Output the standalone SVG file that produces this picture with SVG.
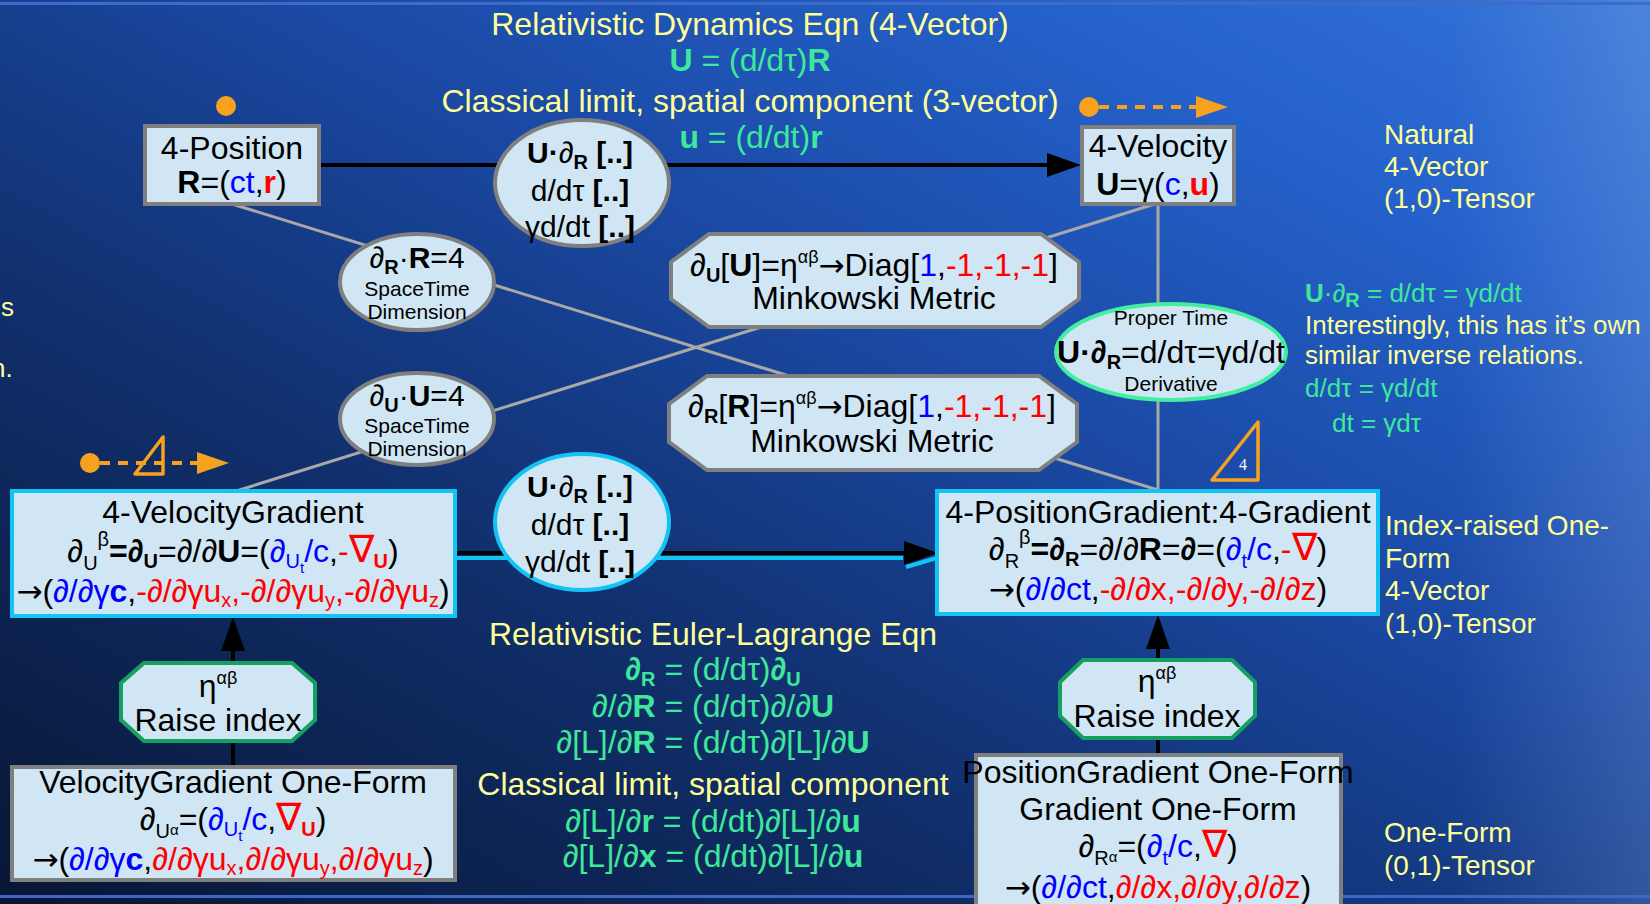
<svg xmlns="http://www.w3.org/2000/svg" width="1650" height="904" viewBox="0 0 1650 904">
<defs>
<linearGradient id="bg" x1="0" y1="1" x2="1" y2="0">
<stop offset="0" stop-color="#081634"/>
<stop offset="0.35" stop-color="#11306e"/>
<stop offset="0.6" stop-color="#1b4aa6"/>
<stop offset="0.82" stop-color="#2562cc"/>
<stop offset="1" stop-color="#3474d8"/>
</linearGradient>
<linearGradient id="edge" x1="0" y1="0" x2="1" y2="0">
<stop offset="0.88" stop-color="#ffffff" stop-opacity="0"/>
<stop offset="1" stop-color="#ffffff" stop-opacity="0.12"/>
</linearGradient>
<marker id="ah" markerUnits="userSpaceOnUse" markerWidth="34" markerHeight="24" refX="24" refY="12" orient="auto">
<path d="M0,0 L34,12 L0,24 z" fill="#000"/>
</marker>
<marker id="oa" markerUnits="userSpaceOnUse" markerWidth="32" markerHeight="22" refX="2" refY="11" orient="auto">
<path d="M0,0 L32,11 L0,22 z" fill="#f6a21e"/>
</marker>
<style>
text{font-family:"Liberation Sans",Arial,Helvetica,sans-serif;fill:#000}
.m{text-anchor:middle}
.s32{font-size:32px}
.s30{font-size:30px}
.s28{font-size:28px}
.s26{font-size:26px}
.s21{font-size:21px}
.sb{font-size:20px}
.sp{font-size:18px}
.ss{font-size:15px}
.nb{font-size:38px}
.ar2{font-family:"DejaVu Sans",sans-serif;font-size:31px}
.b{font-weight:bold}
.bl{fill:#0000ff}
.rd{fill:#ff0000}
.yl{fill:#ffff99}
.gn{fill:#3ee89a}
.nd{fill:#d0e6f4;stroke-width:4}
.gy{stroke:#7f7f7f}
.cy{stroke:#12c4f4}
.mt{stroke:#40f0a0}
.dg{stroke:#14a060}
.ln{stroke:#a8a8a8;stroke-width:3;fill:none}
.ar{stroke:#000;stroke-width:4;fill:none}
.cl{stroke:#12c4f4;stroke-width:4;fill:none}
.or{fill:#f6a21e}
.od{stroke:#f6a21e;stroke-width:4;stroke-dasharray:10 8;fill:none}
.ot{fill:none;stroke:#f6a21e;stroke-width:3.5;stroke-linejoin:round}
</style>
</defs>

<rect width="1650" height="904" fill="url(#bg)"/>
<rect width="1650" height="904" fill="url(#edge)"/>
<rect x="0" y="2" width="1650" height="3" fill="#3d6cc8"/>
<rect x="0" y="895" width="1650" height="3" fill="#3a68c4"/>

<g id="connectors">
<line class="ln" x1="232" y1="204" x2="1158" y2="490"/>
<line class="ln" x1="1158" y1="203" x2="233" y2="492"/>
<line class="ln" x1="1158" y1="203" x2="1158" y2="490"/>
<line class="ar" x1="319" y1="165" x2="1071" y2="165" marker-end="url(#ah)"/>
<line class="ar" x1="455" y1="553" x2="928" y2="553" marker-end="url(#ah)"/>
<line class="cl" x1="455" y1="558" x2="903" y2="558"/>
<line class="cl" x1="906" y1="567" x2="940" y2="557"/>
<line class="ar" x1="233" y1="767" x2="233" y2="627" marker-end="url(#ah)"/>
<line class="ar" x1="1158" y1="755" x2="1158" y2="625" marker-end="url(#ah)"/>
</g>

<g id="title">
<text class="m yl s32" x="750" y="35">Relativistic Dynamics Eqn (4-Vector)</text>
<text class="m gn s32" x="750" y="71"><tspan class="b">U</tspan> = (d/dτ)<tspan class="b">R</tspan></text>
<text class="m yl s32" x="750" y="112">Classical limit, spatial component (3-vector)</text>
<text class="m gn s32" x="751" y="148"><tspan class="b">u</tspan> = (d/dt)<tspan class="b">r</tspan></text>
</g>

<g id="euler-lagrange">
<text class="m yl s32" x="713" y="645">Relativistic Euler-Lagrange Eqn</text>
<text class="m gn s32" x="713" y="680"><tspan class="b">∂</tspan><tspan class="sb b" dy="6">R</tspan><tspan dy="-6"> = (d/dτ)</tspan><tspan class="b">∂</tspan><tspan class="sb b" dy="6">U</tspan></text>
<text class="m gn s32" x="713" y="717">∂/∂<tspan class="b">R</tspan> = (d/dτ)∂/∂<tspan class="b">U</tspan></text>
<text class="m gn s32" x="713" y="753">∂[L]/∂<tspan class="b">R</tspan> = (d/dτ)∂[L]/∂<tspan class="b">U</tspan></text>
<text class="m yl s32" x="713" y="795">Classical limit, spatial component</text>
<text class="m gn s32" x="713" y="832">∂[L]/∂<tspan class="b">r</tspan> = (d/dt)∂[L]/∂<tspan class="b">u</tspan></text>
<text class="m gn s32" x="713" y="867">∂[L]/∂<tspan class="b">x</tspan> = (d/dt)∂[L]/∂<tspan class="b">u</tspan></text>
</g>

<g id="side-labels">
<text class="yl s28" x="1384" y="144">Natural</text>
<text class="yl s28" x="1384" y="176">4-Vector</text>
<text class="yl s28" x="1384" y="208">(1,0)-Tensor</text>
<text class="yl s28" x="1385" y="535">Index-raised One-</text>
<text class="yl s28" x="1385" y="568">Form</text>
<text class="yl s28" x="1385" y="600">4-Vector</text>
<text class="yl s28" x="1385" y="633">(1,0)-Tensor</text>
<text class="yl s28" x="1384" y="842">One-Form</text>
<text class="yl s28" x="1384" y="875">(0,1)-Tensor</text>
<text class="gn s26" x="1305" y="302"><tspan class="b">U</tspan>·∂<tspan class="sb b" dy="5">R</tspan><tspan dy="-5"> = d/dτ = γd/dt</tspan></text>
<text class="yl s26" x="1305" y="334">Interestingly, this has it’s own</text>
<text class="yl s26" x="1305" y="364">similar inverse relations.</text>
<text class="gn s26" x="1305" y="397">d/dτ = γd/dt</text>
<text class="gn s26" x="1332" y="432">dt = γdτ</text>
<text class="yl s26" x="1" y="316">s</text>
<text class="yl s26" x="-9" y="377">n.</text>
</g>

<g id="four-position">
<rect class="nd gy" x="145" y="126" width="174" height="78"/>
<text class="m s32" x="232" y="159">4-Position</text>
<text class="m s32" x="232" y="193"><tspan class="b">R</tspan>=(<tspan class="bl">ct</tspan>,<tspan class="b rd">r</tspan>)</text>
</g>

<g id="four-velocity">
<rect class="nd gy" x="1082" y="127" width="152" height="77"/>
<text class="m s32" x="1158" y="157">4-Velocity</text>
<text class="m s32" x="1158" y="195"><tspan class="b">U</tspan>=γ(<tspan class="bl">c</tspan>,<tspan class="b rd">u</tspan>)</text>
</g>

<g id="derivative-top">
<ellipse class="nd gy" cx="582" cy="183" rx="87" ry="63"/>
<text class="m s30" x="580" y="163"><tspan class="b">U·</tspan>∂<tspan class="sb b" dy="6">R</tspan><tspan class="b" dy="-6"> [..]</tspan></text>
<text class="m s30" x="580" y="201">d/dτ<tspan class="b"> [..]</tspan></text>
<text class="m s30" x="580" y="237">γd/dt<tspan class="b"> [..]</tspan></text>
</g>

<g id="divergence-R">
<ellipse class="nd gy" cx="417" cy="282" rx="77" ry="48"/>
<text class="m s30" x="417" y="268">∂<tspan class="sb b" dy="6">R</tspan><tspan dy="-6">·</tspan><tspan class="b">R</tspan>=4</text>
<text class="m s21" x="417" y="296">SpaceTime</text>
<text class="m s21" x="417" y="319">Dimension</text>
</g>

<g id="divergence-U">
<ellipse class="nd gy" cx="417" cy="419" rx="77" ry="46"/>
<text class="m s30" x="417" y="406">∂<tspan class="sb b" dy="6">U</tspan><tspan dy="-6">·</tspan><tspan class="b">U</tspan>=4</text>
<text class="m s21" x="417" y="433">SpaceTime</text>
<text class="m s21" x="417" y="456">Dimension</text>
</g>

<g id="minkowski-U">
<polygon class="nd gy" points="709,234 1041,234 1079,262 1079,299 1041,327 709,327 671,299 671,262"/>
<text class="m s32" x="874" y="276">∂<tspan class="sb b" dy="6">U</tspan><tspan dy="-6">[</tspan><tspan class="b">U</tspan>]=η<tspan class="sp" dy="-13">αβ</tspan><tspan class="ar2" dy="13">→</tspan>Diag[<tspan class="bl">1</tspan>,<tspan class="rd">-1,-1,-1</tspan>]</text>
<text class="m s32" x="874" y="309">Minkowski Metric</text>
</g>

<g id="minkowski-R">
<polygon class="nd gy" points="707,376 1039,376 1077,404 1077,442 1039,470 707,470 669,442 669,404"/>
<text class="m s32" x="872" y="417">∂<tspan class="sb b" dy="6">R</tspan><tspan dy="-6">[</tspan><tspan class="b">R</tspan>]=η<tspan class="sp" dy="-13">αβ</tspan><tspan class="ar2" dy="13">→</tspan>Diag[<tspan class="bl">1</tspan>,<tspan class="rd">-1,-1,-1</tspan>]</text>
<text class="m s32" x="872" y="452">Minkowski Metric</text>
</g>

<g id="proper-time">
<ellipse class="nd mt" cx="1171" cy="352" rx="115" ry="48"/>
<text class="m s21" x="1171" y="325">Proper Time</text>
<text class="m s32" x="1171" y="363"><tspan class="b">U·∂</tspan><tspan class="sb b" dy="6">R</tspan><tspan dy="-6">=d/dτ=γd/dt</tspan></text>
<text class="m s21" x="1171" y="391">Derivative</text>
</g>

<g id="derivative-bottom">
<ellipse class="nd cy" cx="582" cy="522" rx="87" ry="68"/>
<text class="m s30" x="580" y="497"><tspan class="b">U·</tspan>∂<tspan class="sb b" dy="6">R</tspan><tspan class="b" dy="-6"> [..]</tspan></text>
<text class="m s30" x="580" y="535">d/dτ<tspan class="b"> [..]</tspan></text>
<text class="m s30" x="580" y="572">γd/dt<tspan class="b"> [..]</tspan></text>
</g>

<g id="four-velocity-gradient">
<rect class="nd cy" x="12" y="491" width="443" height="125"/>
<text class="m s32" x="233" y="523">4-VelocityGradient</text>
<text class="m s32" x="233" y="562">∂<tspan class="sb" dy="8">U</tspan><tspan class="sb" dy="-24">β</tspan><tspan class="b" dy="16">=∂</tspan><tspan class="sb b" dy="6">U</tspan><tspan dy="-6">=∂/∂</tspan><tspan class="b">U</tspan>=(<tspan class="bl">∂</tspan><tspan class="sb bl" dy="6">U</tspan><tspan class="ss bl" dy="5">t</tspan><tspan class="bl" dy="-11">/c</tspan>,<tspan class="rd">-</tspan><tspan class="rd nb">∇</tspan><tspan class="sb b rd" dy="6">U</tspan><tspan dy="-6">)</tspan></text>
<text class="m s32" x="233" y="602"><tspan class="ar2">→</tspan>(<tspan class="bl">∂/∂γ</tspan><tspan class="bl b">c</tspan>,<tspan class="rd">-∂/∂γu</tspan><tspan class="rd sb" dy="5">x</tspan><tspan class="rd" dy="-5">,-∂/∂γu</tspan><tspan class="rd sb" dy="5">y</tspan><tspan class="rd" dy="-5">,-∂/∂γu</tspan><tspan class="rd sb" dy="5">z</tspan><tspan dy="-5">)</tspan></text>
</g>

<g id="four-position-gradient">
<rect class="nd cy" x="937" y="491" width="441" height="123"/>
<text class="m s32" x="1158" y="523">4-PositionGradient:4-Gradient</text>
<text class="m s32" x="1158" y="560">∂<tspan class="sb" dy="8">R</tspan><tspan class="sb" dy="-24">β</tspan><tspan class="b" dy="16">=∂</tspan><tspan class="sb b" dy="6">R</tspan><tspan dy="-6">=∂/∂</tspan><tspan class="b">R</tspan>=<tspan class="b">∂</tspan>=(<tspan class="bl">∂</tspan><tspan class="sb bl" dy="8">t</tspan><tspan class="bl" dy="-8">/c</tspan>,<tspan class="rd">-</tspan><tspan class="rd nb">∇</tspan>)</text>
<text class="m s32" x="1158" y="600"><tspan class="ar2">→</tspan>(<tspan class="bl">∂/∂ct</tspan>,<tspan class="rd">-∂/∂x,-∂/∂y,-∂/∂z</tspan>)</text>
</g>

<g id="raise-index-left">
<polygon class="nd dg" points="144,663 292,663 315,683 315,720 292,741 144,741 121,720 121,683"/>
<text class="m s32" x="218" y="697">η<tspan class="sp" dy="-13">αβ</tspan></text>
<text class="m s32" x="218" y="731">Raise index</text>
</g>

<g id="raise-index-right">
<polygon class="nd dg" points="1083,660 1232,660 1255,682 1255,716 1232,738 1083,738 1060,716 1060,682"/>
<text class="m s32" x="1157" y="692">η<tspan class="sp" dy="-13">αβ</tspan></text>
<text class="m s32" x="1157" y="727">Raise index</text>
</g>

<g id="velocity-gradient-one-form">
<rect class="nd gy" x="12" y="767" width="443" height="113"/>
<text class="m s32" x="233" y="793">VelocityGradient One-Form</text>
<text class="m s32" x="233" y="830">∂<tspan class="sb" dy="8">U</tspan><tspan class="ss" dy="-3">α</tspan><tspan dy="-5">=(</tspan><tspan class="bl">∂</tspan><tspan class="sb bl" dy="6">U</tspan><tspan class="ss bl" dy="5">t</tspan><tspan class="bl" dy="-11">/c</tspan>,<tspan class="rd nb">∇</tspan><tspan class="sb b rd" dy="6">U</tspan><tspan dy="-6">)</tspan></text>
<text class="m s32" x="233" y="870"><tspan class="ar2">→</tspan>(<tspan class="bl">∂/∂γ</tspan><tspan class="bl b">c</tspan>,<tspan class="rd">∂/∂γu</tspan><tspan class="rd sb" dy="5">x</tspan><tspan class="rd" dy="-5">,∂/∂γu</tspan><tspan class="rd sb" dy="5">y</tspan><tspan class="rd" dy="-5">,∂/∂γu</tspan><tspan class="rd sb" dy="5">z</tspan><tspan dy="-5">)</tspan></text>
</g>

<g id="position-gradient-one-form">
<rect class="nd gy" x="976" y="755" width="365" height="160"/>
<text class="m s32" x="1158" y="783">PositionGradient One-Form</text>
<text class="m s32" x="1158" y="820">Gradient One-Form</text>
<text class="m s32" x="1158" y="857">∂<tspan class="sb" dy="8">R</tspan><tspan class="ss" dy="-3">α</tspan><tspan dy="-5">=(</tspan><tspan class="bl">∂</tspan><tspan class="sb bl" dy="8">t</tspan><tspan class="bl" dy="-8">/c</tspan>,<tspan class="rd nb">∇</tspan>)</text>
<text class="m s32" x="1158" y="898"><tspan class="ar2">→</tspan>(<tspan class="bl">∂/∂ct</tspan>,<tspan class="rd">∂/∂x,∂/∂y,∂/∂z</tspan>)</text>
</g>

<g id="markers-orange">
<circle class="or" cx="226" cy="106" r="10"/>
<circle class="or" cx="1089" cy="107" r="10"/>
<line class="od" x1="1099" y1="107" x2="1198" y2="107" marker-end="url(#oa)"/>
<circle class="or" cx="90" cy="463" r="10"/>
<line class="od" x1="100" y1="463" x2="199" y2="463" marker-end="url(#oa)"/>
<polygon class="ot" points="135,474 163,437 163,474"/>
<polygon class="ot" points="1212,480 1258,422 1258,480"/>
<text x="1243" y="470" text-anchor="middle" style="font-family:'Liberation Serif',serif;font-size:16px;fill:#ffffff">4</text>
</g>
</svg>
